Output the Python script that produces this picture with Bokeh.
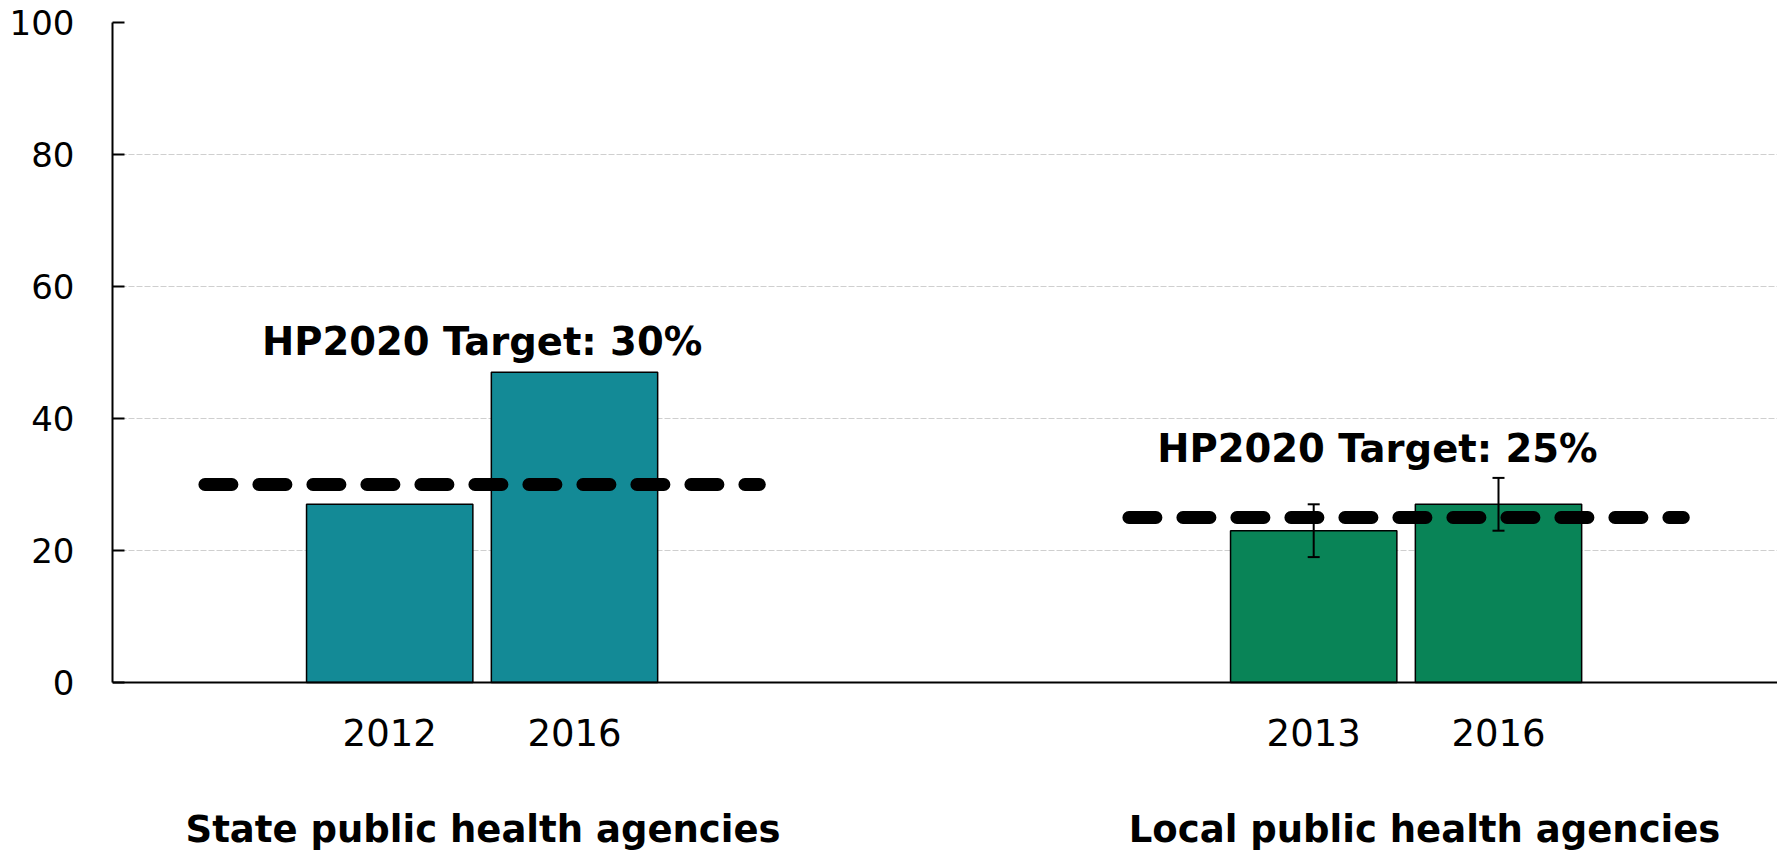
from bokeh.plotting import figure
from bokeh.models import (ColumnDataSource, FixedTicker, Whisker, TeeHead, Range1d, Span)
from bokeh.embed import file_html
from bokeh.resources import INLINE
from bokeh.core.properties import value

# ---------------- data ----------------
groups = ["State public health agencies", "Local public health agencies"]
years = ["2012", "2016", "2013", "2016"]
bar_group = [0, 0, 1, 1]
values = [27, 47, 23, 27]
err_years_idx = [2, 3]          # bars that carry error bars (local 2013, 2016)
err_lower = [19, 23]
err_upper = [27, 31]
targets = [30, 25]
target_labels = ["HP2020 Target: 30%", "HP2020 Target: 25%"]
y_ticks = [0, 20, 40, 60, 80, 100]

# ---------------- layout / style ----------------
GROUP_STEP = 10
SLOT = [-1, 1, -1, 1]
BAR_W = 1.8
TARGET_HALF = 3.0
group_colors = ["#138A96", "#098457"]
target_label_dx = [0.0, -0.31]
target_label_dy = [21.7, 10.5]
group_label_dx = [0.01, 0.2]
YEAR_LABEL_Y = -7.6      # below the zero line, in value units
GROUP_LABEL_Y = -22.3
PX_PER_UNIT_Y = 6.6
Y_MIN = -(851 - 682) / PX_PER_UNIT_Y

group_x = [i * GROUP_STEP for i in range(len(groups))]
bar_x = [group_x[g] + s for g, s in zip(bar_group, SLOT)]
bar_colors = [group_colors[g] for g in bar_group]

p = figure(width=1777, height=851, output_backend="svg", toolbar_location=None,
           x_range=Range1d(-4, -4 + 1665 / 92.4), y_range=Range1d(Y_MIN, 100),
           min_border_left=112, min_border_right=0, min_border_top=22,
           min_border_bottom=0)
p.outline_line_color = None
p.background_fill_color = "white"
p.border_fill_color = "white"
p.xgrid.visible = False
p.xaxis.visible = False

# grid
p.ygrid.ticker = FixedTicker(ticks=[t for t in y_ticks if t > 0])
p.ygrid.grid_line_color = "#cfcfcf"
p.ygrid.grid_line_dash = "6 2"
p.ygrid.grid_line_width = 1

# y axis
ya = p.yaxis[0]
ya.ticker = FixedTicker(ticks=y_ticks)
ya.bounds = (0, 100)
ya.major_tick_in = 12
ya.major_tick_out = 0
ya.minor_tick_line_color = None
ya.axis_line_width = 2
ya.major_tick_line_width = 2
ya.axis_line_color = "black"
ya.major_tick_line_color = "black"
ya.major_label_text_font = "DejaVu Sans"
ya.major_label_text_font_size = "34px"
ya.major_label_text_color = "black"
ya.major_label_standoff = 38

# zero line (category axis line)
p.add_layout(Span(location=0, dimension="width", line_color="black", line_width=2))

# bars
bars = ColumnDataSource(dict(x=bar_x, top=values, color=bar_colors,
                             year=years, ly=[YEAR_LABEL_Y] * len(years)))
p.vbar(x="x", top="top", bottom=0, width=BAR_W, source=bars,
       fill_color="color", line_color="black", line_width=1.5)

# year labels under each bar
p.text(x="x", y="ly", text="year", source=bars, text_font=value("DejaVu Sans"),
       text_font_size="37px", text_color="black",
       text_align="center", text_baseline="alphabetic")

# target lines
tsrc = ColumnDataSource(dict(x0=[g - TARGET_HALF for g in group_x],
                             x1=[g + TARGET_HALF for g in group_x],
                             y=targets))
p.segment(x0="x0", x1="x1", y0="y", y1="y", source=tsrc, line_color="black",
          line_width=13, line_dash="27 27", line_cap="round")

# error bars
esrc = ColumnDataSource(dict(x=[bar_x[i] for i in err_years_idx],
                             lower=err_lower, upper=err_upper))
p.add_layout(Whisker(base="x", lower="lower", upper="upper", source=esrc,
                     dimension="height", line_color="black", line_width=2,
                     level="annotation",
                     upper_head=TeeHead(size=12, line_width=2, line_color="black"),
                     lower_head=TeeHead(size=12, line_width=2, line_color="black")))

# target labels
lsrc = ColumnDataSource(dict(x=[g + d for g, d in zip(group_x, target_label_dx)],
                             y=[t + d for t, d in zip(targets, target_label_dy)],
                             text=target_labels))
p.text(x="x", y="y", text="text", source=lsrc, text_font=value("DejaVu Sans"),
       text_font_style="bold", text_font_size="38.5px", text_color="black",
       text_align="center", text_baseline="alphabetic")

# group labels
gsrc = ColumnDataSource(dict(x=[g + d for g, d in zip(group_x, group_label_dx)],
                             y=[GROUP_LABEL_Y] * len(groups), text=groups))
p.text(x="x", y="y", text="text", source=gsrc, text_font=value("DejaVu Sans"),
       text_font_style="bold", text_font_size="37px", text_color="black",
       text_align="center", text_baseline="alphabetic")

open("out.html", "w").write(file_html(p, INLINE))
